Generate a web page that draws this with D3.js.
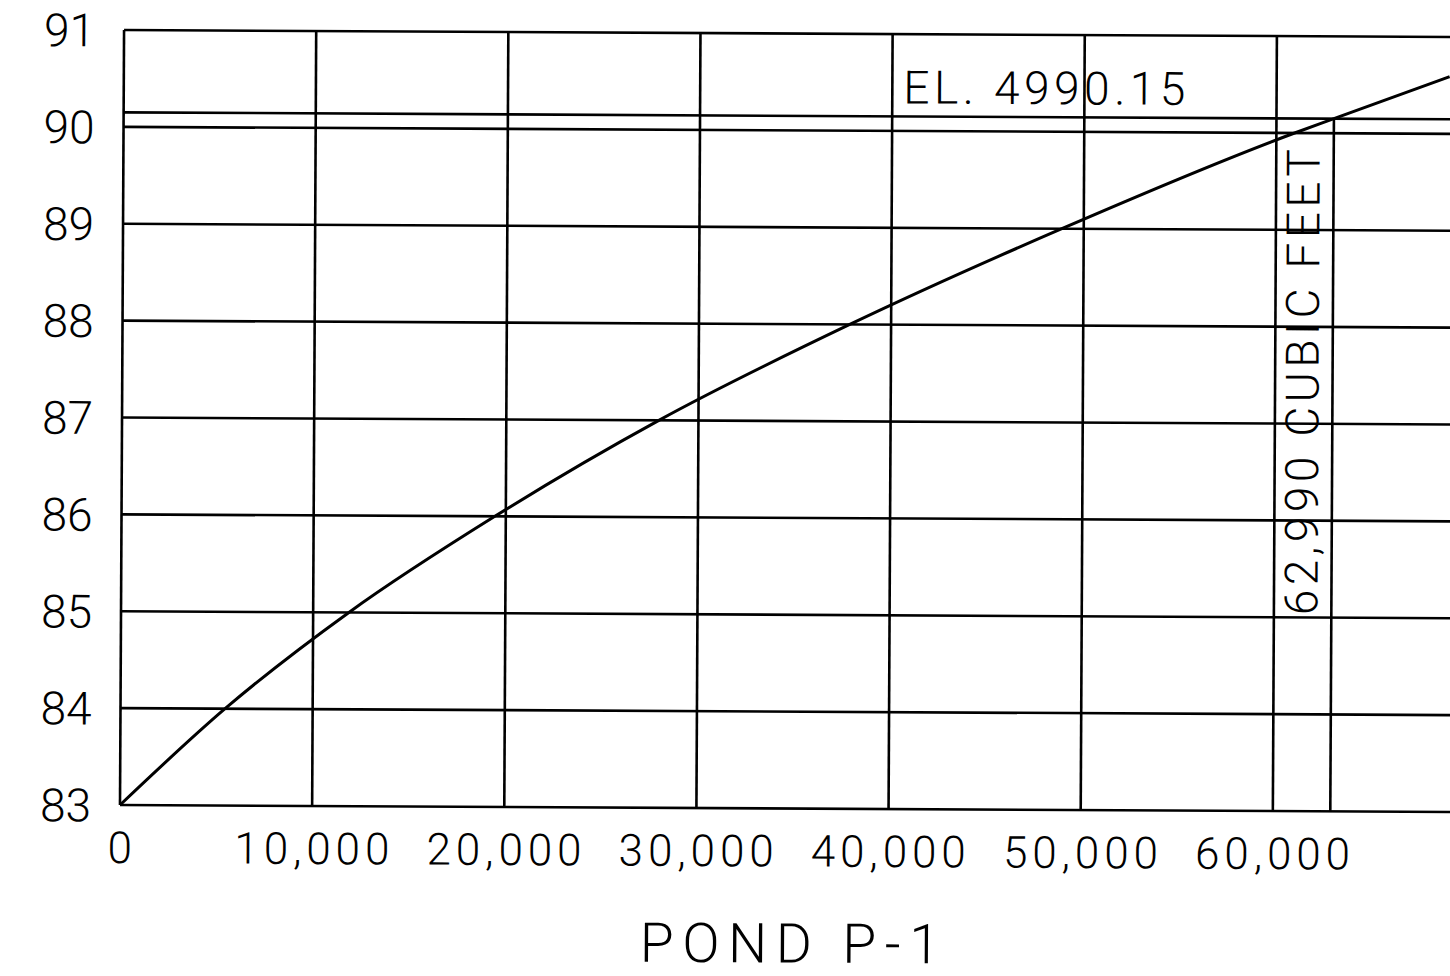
<!DOCTYPE html>
<html>
<head>
<meta charset="utf-8">
<script src="https://cdn.jsdelivr.net/npm/d3@7"></script>
<style>
  html, body { margin: 0; padding: 0; background: #fff; }
  svg { display: block; }
  text { font-family: Roboto, "DejaVu Sans", sans-serif; font-weight: 300; fill: #000; }
</style>
</head>
<body>
<svg id="chart" width="1450" height="976"></svg>
<script>
// ---- data ----
const elevationTicks = [83, 84, 85, 86, 87, 88, 89, 90, 91];
const volumeTicks = [0, 10000, 20000, 30000, 40000, 50000, 60000];
const volumeGrid = [0, 10000, 20000, 30000, 40000, 50000, 60000, 70000];
const volumeLabels = ["0", "10,000", "20,000", "30,000", "40,000", "50,000", "60,000"];
const curveVolume = [0, 5440, 11860, 19430, 27940, 37850, 48860, 60950, 62990, 69000];
const curveElevation = [83, 84, 85, 86, 87, 88, 89, 90, 90.15, 90.59];
const designElevation = 90.15;
const designVolume = 62990;
const elevationLabel = "EL. 4990.15";
const volumeLabel = "62,990 CUBIC FEET";
const title = "POND P-1";

// ---- layout ----
const mLeft = 120, mBottom = 805, mTop = 30, mRight = 1465;
const skew = 0.3; // scan rotation (degrees)

const x = d3.scaleLinear().domain([0, 70000]).range([mLeft, mRight]);
const y = d3.scaleLinear().domain([83, 91]).range([mBottom, mTop]);

const svg = d3.select("#chart");
const g = svg.append("g").attr("transform", `rotate(${skew}, ${mLeft}, ${mBottom})`);

const lineW = 2.6;

// horizontal grid lines (incl. design elevation line)
g.selectAll("line.h")
  .data(elevationTicks.concat([designElevation]))
  .join("line")
  .attr("class", "h")
  .attr("x1", x(0)).attr("x2", x(70000))
  .attr("y1", d => y(d)).attr("y2", d => y(d))
  .attr("stroke", "#000").attr("stroke-width", lineW);

// vertical grid lines
g.selectAll("line.v")
  .data(volumeGrid)
  .join("line")
  .attr("class", "v")
  .attr("x1", d => x(d)).attr("x2", d => x(d))
  .attr("y1", y(83)).attr("y2", y(91))
  .attr("stroke", "#000").attr("stroke-width", lineW);

// design volume line
g.append("line")
  .attr("x1", x(designVolume)).attr("x2", x(designVolume))
  .attr("y1", y(83)).attr("y2", y(designElevation))
  .attr("stroke", "#000").attr("stroke-width", lineW);

// stage-storage curve
const pts = curveVolume.map((v, i) => [v, curveElevation[i]]);
g.append("path")
  .datum(pts)
  .attr("fill", "none")
  .attr("stroke", "#000")
  .attr("stroke-width", 3)
  .attr("d", d3.line().x(d => x(d[0])).y(d => y(d[1])).curve(d3.curveMonotoneX));

// y tick labels
g.selectAll("text.yl")
  .data(elevationTicks)
  .join("text")
  .attr("class", "yl")
  .attr("x", mLeft - 80)
  .attr("y", d => y(d))
  .attr("dy", "0.36em")
  .attr("font-size", 46)
  .text(d => String(d));

// x tick labels
g.selectAll("text.xl")
  .data(volumeTicks)
  .join("text")
  .attr("class", "xl")
  .attr("x", d => x(d))
  .attr("y", mBottom + 58)
  .attr("text-anchor", "middle")
  .attr("font-size", 44)
  .each(function(d, i) {
    const t = d3.select(this).text(volumeLabels[i]);
    if (d !== 0) t.attr("textLength", 155).attr("lengthAdjust", "spacing");
  });

// elevation annotation
g.append("text")
  .attr("x", x(40000) + 11)
  .attr("y", y(designElevation) - 13)
  .attr("font-size", 46)
  .attr("textLength", 282)
  .attr("lengthAdjust", "spacing")
  .text(elevationLabel);

// volume annotation (vertical)
g.append("text")
  .attr("transform", `translate(${x(designVolume) - 14}, ${mBottom - 196}) rotate(-90)`)
  .attr("font-size", 46)
  .attr("textLength", 466)
  .attr("lengthAdjust", "spacing")
  .text(volumeLabel);

// title
g.append("text")
  .attr("x", (mLeft + mRight) / 2 - 2)
  .attr("y", mBottom + 154)
  .attr("text-anchor", "middle")
  .attr("font-size", 55)
  .attr("textLength", 300)
  .attr("lengthAdjust", "spacing")
  .text(title);
</script>
</body>
</html>
